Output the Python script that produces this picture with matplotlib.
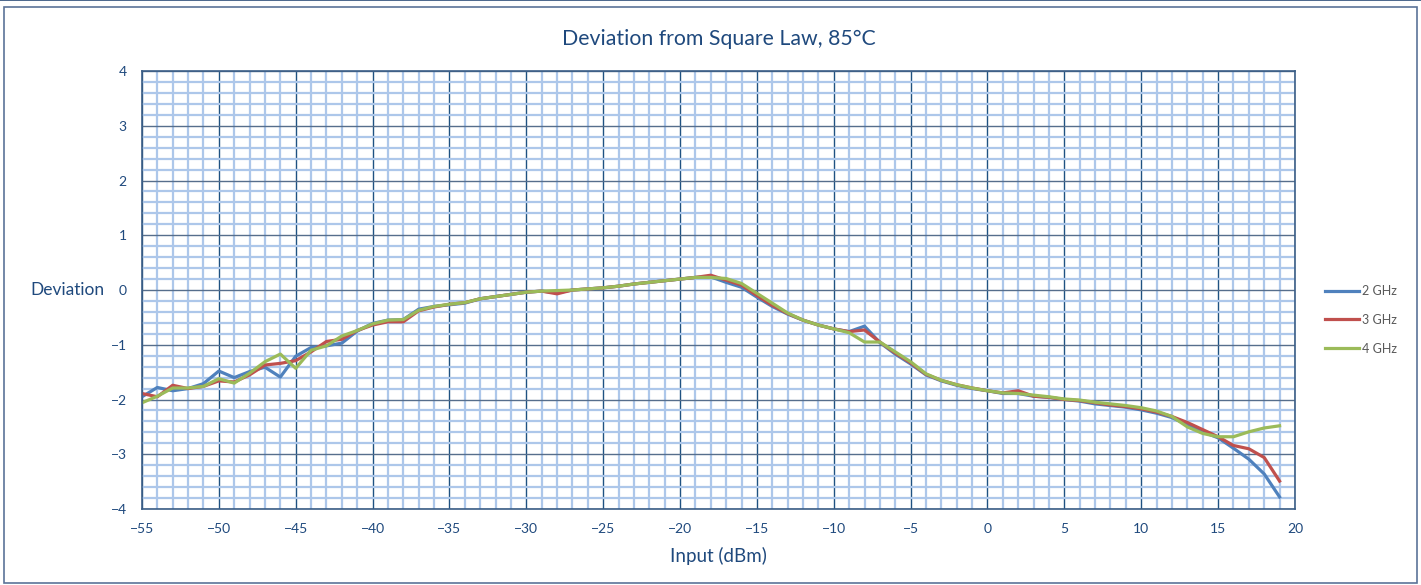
import matplotlib.pyplot as plt
import numpy as np
from matplotlib.patches import Rectangle
from matplotlib.ticker import MultipleLocator

plt.rcParams['font.family'] = ['Lato', 'DejaVu Sans']

# input power, dBm
input_dbm = list(range(-55, 20))

dev_2ghz = [
    -1.95, -1.78, -1.84, -1.80, -1.71, -1.48, -1.60, -1.49, -1.41, -1.59,
    -1.21, -1.05, -1.02, -0.97, -0.75, -0.61, -0.55, -0.54, -0.35, -0.30,
    -0.27, -0.24, -0.16, -0.12, -0.08, -0.04, -0.02, -0.05, 0.00, 0.02,
    0.04, 0.07, 0.11, 0.14, 0.17, 0.20, 0.23, 0.24, 0.14, 0.05,
    -0.13, -0.30, -0.44, -0.55, -0.64, -0.71, -0.76, -0.66, -0.96, -1.17,
    -1.35, -1.55, -1.66, -1.74, -1.80, -1.84, -1.89, -1.89, -1.94, -1.96,
    -2.00, -2.03, -2.08, -2.11, -2.14, -2.19, -2.25, -2.33, -2.46, -2.59,
    -2.70, -2.89, -3.09, -3.36, -3.78,
]

dev_3ghz = [
    -1.89, -1.95, -1.74, -1.80, -1.76, -1.66, -1.68, -1.55, -1.37, -1.34,
    -1.29, -1.13, -0.94, -0.90, -0.74, -0.64, -0.58, -0.58, -0.38, -0.31,
    -0.26, -0.23, -0.16, -0.12, -0.08, -0.04, -0.02, -0.07, 0.00, 0.02,
    0.04, 0.07, 0.11, 0.14, 0.17, 0.20, 0.23, 0.27, 0.18, 0.09,
    -0.10, -0.28, -0.43, -0.55, -0.64, -0.71, -0.76, -0.73, -0.95, -1.15,
    -1.33, -1.54, -1.65, -1.73, -1.79, -1.84, -1.88, -1.84, -1.94, -1.96,
    -2.00, -2.02, -2.06, -2.10, -2.13, -2.17, -2.23, -2.31, -2.42, -2.55,
    -2.68, -2.84, -2.90, -3.06, -3.49,
]

dev_4ghz = [
    -2.06, -1.94, -1.79, -1.79, -1.76, -1.62, -1.70, -1.52, -1.31, -1.17,
    -1.43, -1.10, -1.02, -0.84, -0.74, -0.62, -0.55, -0.54, -0.37, -0.30,
    -0.26, -0.23, -0.16, -0.12, -0.08, -0.04, -0.02, -0.01, 0.00, 0.02,
    0.04, 0.07, 0.11, 0.14, 0.17, 0.20, 0.23, 0.23, 0.21, 0.12,
    -0.06, -0.24, -0.42, -0.55, -0.64, -0.71, -0.78, -0.95, -0.95, -1.13,
    -1.31, -1.53, -1.65, -1.73, -1.79, -1.84, -1.88, -1.89, -1.92, -1.95,
    -1.99, -2.01, -2.05, -2.08, -2.11, -2.15, -2.21, -2.31, -2.50, -2.62,
    -2.68, -2.68, -2.59, -2.52, -2.48,
]

series = [('2 GHz', dev_2ghz, '#4F81BD'),
          ('3 GHz', dev_3ghz, '#C0504D'),
          ('4 GHz', dev_4ghz, '#9BBB59')]

text_col = '#1F497D'
major_x_col = '#1F5282'
major_y_col = '#566E8C'
minor_col = '#ADC7EA'

fig = plt.figure(figsize=(14.21, 5.85), dpi=100)
ax = fig.add_axes([0.0999, 0.1299, 0.8114, 0.7487])

# chart frames
fig.patches.append(Rectangle((0, 0.9983), 1, 0.003, transform=fig.transFigure,
                             color='#4F6A8F', lw=0))
fig.patches.append(Rectangle((0.0028, 0.003), 0.9944, 0.985, transform=fig.transFigure,
                             fill=False, edgecolor='#5B7398', lw=1.2))

for name, vals, col in series:
    ax.plot(input_dbm, vals, color=col, lw=2.3, label=name, solid_joinstyle='round')

ax.set_xlim(-55, 20)
ax.set_ylim(-4, 4)
ax.xaxis.set_major_locator(MultipleLocator(5))
ax.xaxis.set_minor_locator(MultipleLocator(1))
ax.yaxis.set_major_locator(MultipleLocator(1))
ax.yaxis.set_minor_locator(MultipleLocator(0.2))
ax.grid(which='minor', color=minor_col, lw=1.6, zorder=0)
ax.xaxis.grid(which='major', color=major_x_col, lw=1.0, zorder=0)
ax.yaxis.grid(which='major', color=major_y_col, lw=1.0, zorder=0)
ax.set_axisbelow(True)
ax.tick_params(which='both', length=0, labelsize=10, labelcolor=text_col)
ax.tick_params(axis='x', pad=10)
ax.tick_params(axis='y', pad=11)
for sp in ax.spines.values():
    sp.set_color('#3B5E86')
    sp.set_linewidth(1.2)

ax.set_title('Deviation from Square Law, 85°C', color=text_col, fontsize=15.3, pad=19)
ax.set_xlabel('Input (dBm)', color=text_col, fontsize=13.5, labelpad=9)
ax.set_ylabel('Deviation', color=text_col, fontsize=12.5, rotation=0, labelpad=4,
              va='center', ha='right')

leg = ax.legend(loc='center left', bbox_to_anchor=(1.022, 0.432), frameon=False,
                fontsize=9, labelspacing=1.35, handlelength=2.7, handletextpad=0.25,
                borderaxespad=0)
for t in leg.get_texts():
    t.set_color('#595959')

fig.savefig('out.png', dpi=100)
